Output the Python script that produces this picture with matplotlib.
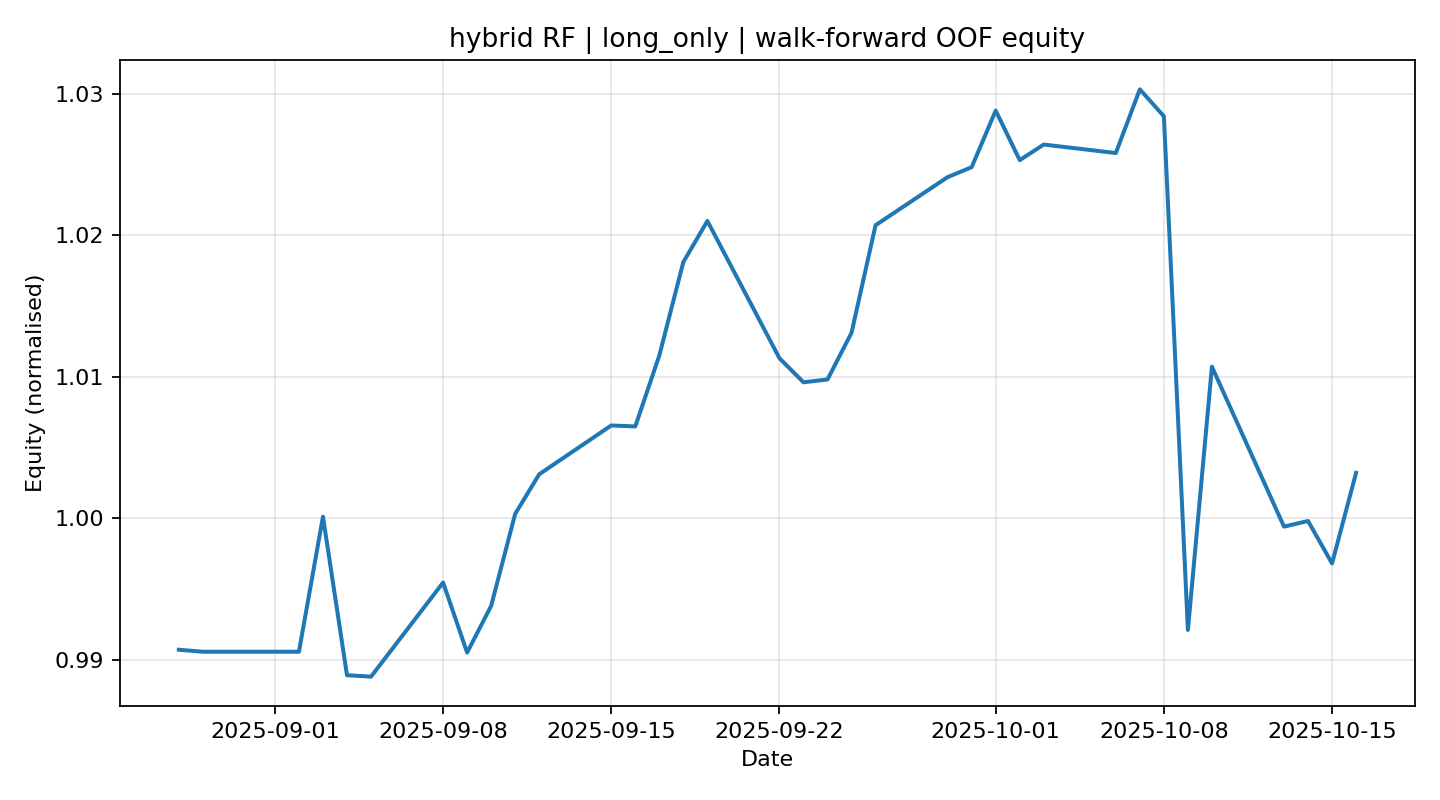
import pandas as pd
import matplotlib
matplotlib.use("Agg")
import matplotlib.pyplot as plt

# values
dates = [
    "2025-08-28", "2025-08-29", "2025-09-02", "2025-09-03", "2025-09-04",
    "2025-09-05", "2025-09-08", "2025-09-09", "2025-09-10", "2025-09-11",
    "2025-09-12", "2025-09-15", "2025-09-16", "2025-09-17", "2025-09-18",
    "2025-09-19", "2025-09-22", "2025-09-23", "2025-09-24", "2025-09-25",
    "2025-09-26", "2025-09-29", "2025-09-30", "2025-10-01", "2025-10-02",
    "2025-10-03", "2025-10-06", "2025-10-07", "2025-10-08", "2025-10-09",
    "2025-10-10", "2025-10-13", "2025-10-14", "2025-10-15", "2025-10-16",
]
equity = [
    0.9907, 0.99056, 0.99056, 1.0001, 0.9889,
    0.9888, 0.99545, 0.9905, 0.9938, 1.0003,
    1.0031, 1.00655, 1.00648, 1.0115, 1.0181,
    1.0210, 1.0113, 1.0096, 1.0098, 1.0131,
    1.0207, 1.0241, 1.0248, 1.0288, 1.0253,
    1.0264, 1.0258, 1.0303, 1.0284, 0.9921,
    1.0107, 0.9994, 0.9998, 0.9968, 1.0032,
]

x = pd.to_datetime(dates)

fig, ax = plt.subplots(figsize=(9, 5), dpi=160)
ax.plot(x, equity, color="#1f77b4", linewidth=1.8)
ax.set_title("hybrid RF | long_only | walk-forward OOF equity")
ax.set_xlabel("Date")
ax.set_ylabel("Equity (normalised)")
ax.grid(True, alpha=0.3)
fig.subplots_adjust(left=0.0833, right=0.9826, top=0.925, bottom=0.1175)
fig.savefig("out.png", dpi=160)
